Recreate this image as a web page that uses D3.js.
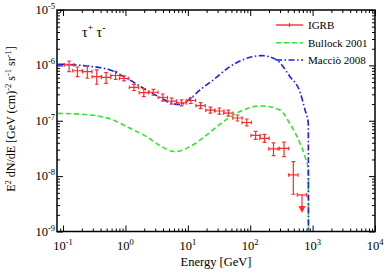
<!DOCTYPE html>
<html lang="en">
<head>
<meta charset="UTF-8" />
<title>tau+ tau- gamma-ray spectrum</title>
<script src="https://cdn.jsdelivr.net/npm/d3@7/dist/d3.min.js"></script>
<style>
  body { margin: 0; background: #fff; }
  text { font-family: "Liberation Serif", "DejaVu Serif", serif; fill: #000; }
  .frame { fill: none; stroke: #000; stroke-width: 1.5px; }
  .axis path { display: none; }
  .axis line { stroke: #000; stroke-width: 1px; }
  .bullock { fill: none; stroke: #2ee62e; stroke-width: 1.6px; stroke-dasharray: 5,3; }
  .maccio { fill: none; stroke: #1a1aff; stroke-width: 1.6px; stroke-dasharray: 6,2.5,1.5,2.5; }
  .igrb line, .igrb path { stroke: #ff2a2a; stroke-width: 1.2px; fill: none; }
</style>
</head>
<body>
<script>
// IGRB measured points (GeV, GeV cm^-2 s^-1 sr^-1)
var igrbE  = [0.125, 0.17, 0.245, 0.347, 0.489, 0.694, 0.95, 1.37, 1.97, 2.8, 3.97, 5.52, 7.93,
              11.2, 16, 23, 32, 44.6, 62.5, 88, 122, 169, 236, 348, 491];
var igrbF  = [1.02e-6, 8.0e-7, 7.7e-7, 6.25e-7, 6.05e-7, 6.57e-7, 5.8e-7, 3.99e-7, 3.22e-7, 3.27e-7,
              2.63e-7, 2.26e-7, 2.1e-7, 2.32e-7, 1.87e-7, 1.55e-7, 1.5e-7, 1.37e-7, 1.12e-7, 9.3e-8,
              5.43e-8, 4.8e-8, 3.1e-8, 3.16e-8, 1.05e-8];
var igrbHi = [1.2e-6, 9.35e-7, 9.9e-7, 8.26e-7, 7.38e-7, 7.76e-7, 6.44e-7, 4.52e-7, 3.8e-7, 3.7e-7,
              3.04e-7, 2.56e-7, 2.38e-7, 2.63e-7, 2.12e-7, 1.76e-7, 1.7e-7, 1.55e-7, 1.27e-7, 1.076e-7,
              6.41e-8, 5.67e-8, 3.97e-8, 4.1e-8, 1.83e-8];
var igrbLo = [7.7e-7, 6.25e-7, 5.85e-7, 4.56e-7, 4.75e-7, 5.57e-7, 5.23e-7, 3.52e-7, 2.72e-7, 2.89e-7,
              2.27e-7, 2.0e-7, 1.85e-7, 2.05e-7, 1.65e-7, 1.37e-7, 1.32e-7, 1.21e-7, 9.9e-8, 8.04e-8,
              4.6e-8, 4.06e-8, 2.34e-8, 2.25e-8, 4.71e-9];
var binHalfDex = 0.075;

// upper limit point
var ulE = 676, ulF = 4.58e-9, ulTip = 2.29e-9;

// Bullock 2001 model
var bullockE = [0.0832, 0.271, 0.567, 1.19, 2.19, 3.82, 6.24, 10.8, 20.1, 37, 68.7, 149, 300, 434, 628, 755, 853, 857];
var bullockF = [1.36e-7, 1.27e-7, 1.08e-7, 7.3e-8, 5.16e-8, 3.4e-8, 2.77e-8, 3.4e-8, 5.55e-8, 9.6e-8,
                1.47e-7, 1.85e-7, 1.57e-7, 8.8e-8, 3.93e-8, 2.25e-8, 1.29e-8, 1e-9];

// Maccio 2008 model
var maccioE = [0.0832, 0.211, 0.567, 1.05, 1.94, 3.58, 5.86, 7.5, 10.8, 15.7, 25.6, 47.4, 99.3, 153, 266, 434, 628, 755, 853, 857];
var maccioF = [1.05e-6, 9.9e-7, 8.26e-7, 5.85e-7, 3.86e-7, 2.64e-7, 2.03e-7, 1.97e-7, 2.48e-7, 3.6e-7,
               5.45e-7, 9.5e-7, 1.4e-6, 1.5e-6, 1.25e-6, 6.25e-7, 3.31e-7, 1.57e-7, 9.0e-8, 1e-9];

var xMajor = [1e-1, 1e0, 1e1, 1e2, 1e3, 1e4];
var xExp = ["-1", "0", "1", "2", "3", "4"];
var yMajor = [1e-9, 1e-8, 1e-7, 1e-6, 1e-5];
var yExp = ["-9", "-8", "-7", "-6", "-5"];
var legendNames = ["IGRB", "Bullock 2001", "Macciò 2008"];

var w = 389, h = 273;
var pl = 57, pr = 375, pt = 10, pb = 231.5;

var svg = d3.select("body").append("svg").attr("width", w).attr("height", h);

var x = d3.scaleLog().domain([0.08, 1e4]).range([pl, pr]);
var y = d3.scaleLog().domain([1e-9, 1e-5]).range([pb, pt]);

function minors(majors) {
  var out = [];
  majors.slice(0, -1).forEach(function(m) {
    for (var k = 2; k <= 9; k++) out.push(m * k);
  });
  return out;
}
var xMinor = minors([1e-2].concat(xMajor)).filter(function(v) { return v > 0.08; });
var yMinor = minors(yMajor);

// ticks, pointing inward on all four sides
function ax(axis, vals, size, tr) {
  svg.append("g").attr("class", "axis").attr("transform", tr)
    .call(axis.tickValues(vals).tickSize(size).tickFormat(""));
}
ax(d3.axisBottom(x), xMajor, -6, "translate(0," + pb + ")");
ax(d3.axisBottom(x), xMinor, -3, "translate(0," + pb + ")");
ax(d3.axisTop(x), xMajor, -6, "translate(0," + pt + ")");
ax(d3.axisTop(x), xMinor, -3, "translate(0," + pt + ")");
ax(d3.axisLeft(y), yMajor, -6, "translate(" + pl + ",0)");
ax(d3.axisLeft(y), yMinor, -3, "translate(" + pl + ",0)");
ax(d3.axisRight(y), yMajor, -6, "translate(" + pr + ",0)");
ax(d3.axisRight(y), yMinor, -3, "translate(" + pr + ",0)");

// tick labels
xMajor.forEach(function(v, i) {
  var t = svg.append("text").attr("x", x(v)).attr("y", 250).attr("text-anchor", "middle")
    .style("font-size", "12.5px");
  t.append("tspan").text("10");
  t.append("tspan").attr("dy", -5).style("font-size", "8.5px").text(xExp[i]);
});
yMajor.forEach(function(v, i) {
  var t = svg.append("text").attr("x", 55).attr("y", y(v) + 4).attr("text-anchor", "end")
    .style("font-size", "12.5px");
  t.append("tspan").text("10");
  t.append("tspan").attr("dy", -5).style("font-size", "8.5px").text(yExp[i]);
});

// axis titles
svg.append("text").attr("x", 216).attr("y", 266).attr("text-anchor", "middle")
  .style("font-size", "12.5px").text("Energy [GeV]");

var yl = svg.append("text").attr("transform", "translate(15,119) rotate(-90)")
  .attr("text-anchor", "middle").style("font-size", "12px");
[["E", 0], ["2", -4], [" dN/dE [GeV (cm)", 4], ["-2", -4], [" s", 4], ["-1", -4], [" sr", 4], ["-1", -4], ["]", 4]]
  .forEach(function(p, i) {
    var s = yl.append("tspan").text(p[0]);
    if (i > 0) s.attr("dy", p[1]);
    if (p[1] < 0) s.style("font-size", "8.5px");
  });

var lab = svg.append("text").attr("x", 82).attr("y", 37).style("font-size", "14px");
lab.append("tspan").text("τ");
lab.append("tspan").attr("dy", -6).style("font-size", "9.5px").text("+");
lab.append("tspan").attr("dy", 6).text(" τ");
lab.append("tspan").attr("dy", -6).style("font-size", "9.5px").text("-");

// curves
svg.append("clipPath").attr("id", "clip").append("rect")
  .attr("x", pl).attr("y", pt).attr("width", pr - pl).attr("height", pb - pt);

var line = d3.line()
  .x(function(d) { return x(d[0]); })
  .y(function(d) { return y(d[1]); })
  .curve(d3.curveMonotoneX);

var plot = svg.append("g").attr("clip-path", "url(#clip)");
plot.append("path").attr("class", "bullock").attr("d", line(d3.zip(bullockE, bullockF)));
plot.append("path").attr("class", "maccio").attr("d", line(d3.zip(maccioE, maccioF)));

// IGRB error bars
var g = plot.append("g").attr("class", "igrb");
var cap = 1.8;
igrbE.forEach(function(e, i) {
  var cx = x(e), cy = y(igrbF[i]);
  var x0 = x(e / Math.pow(10, binHalfDex)), x1 = x(e * Math.pow(10, binHalfDex));
  var yh = y(igrbHi[i]), ylo = y(igrbLo[i]);
  g.append("line").attr("x1", x0).attr("x2", x1).attr("y1", cy).attr("y2", cy);
  g.append("line").attr("x1", cx).attr("x2", cx).attr("y1", yh).attr("y2", ylo);
  g.append("line").attr("x1", cx - cap).attr("x2", cx + cap).attr("y1", yh).attr("y2", yh);
  g.append("line").attr("x1", cx - cap).attr("x2", cx + cap).attr("y1", ylo).attr("y2", ylo);
  g.append("line").attr("x1", x0).attr("x2", x0).attr("y1", cy - cap).attr("y2", cy + cap);
  g.append("line").attr("x1", x1).attr("x2", x1).attr("y1", cy - cap).attr("y2", cy + cap);
});
(function() {
  var cx = x(ulE), cy = y(ulF), tip = y(ulTip);
  var x0 = x(ulE / Math.pow(10, binHalfDex)), x1 = x(ulE * Math.pow(10, binHalfDex));
  g.append("line").attr("x1", x0).attr("x2", x1).attr("y1", cy).attr("y2", cy);
  g.append("line").attr("x1", x0).attr("x2", x0).attr("y1", cy - cap).attr("y2", cy + cap);
  g.append("line").attr("x1", x1).attr("x2", x1).attr("y1", cy - cap).attr("y2", cy + cap);
  g.append("line").attr("x1", cx).attr("x2", cx).attr("y1", cy).attr("y2", tip - 4);
  g.append("path").style("fill", "#ff2a2a")
    .attr("d", "M" + (cx - 2.5) + "," + (tip - 5) + "L" + (cx + 2.5) + "," + (tip - 5) + "L" + cx + "," + tip + "Z");
})();

// frame
svg.append("rect").attr("class", "frame")
  .attr("x", pl).attr("y", pt).attr("width", pr - pl).attr("height", pb - pt);

// legend
var legY = [25, 42.7, 60];
var leg = svg.append("g");
leg.append("line").attr("x1", 276).attr("x2", 303).attr("y1", legY[0]).attr("y2", legY[0])
  .style("stroke", "#ff2a2a").style("stroke-width", 1.4);
leg.append("line").attr("x1", 289.5).attr("x2", 289.5).attr("y1", legY[0] - 2).attr("y2", legY[0] + 2)
  .style("stroke", "#ff2a2a").style("stroke-width", 1.2);
leg.append("line").attr("class", "bullock").attr("x1", 276).attr("x2", 303).attr("y1", legY[1]).attr("y2", legY[1]);
leg.append("line").attr("class", "maccio").attr("x1", 276).attr("x2", 303).attr("y1", legY[2]).attr("y2", legY[2]);
legendNames.forEach(function(n, i) {
  leg.append("text").attr("x", 308).attr("y", legY[i] + 3.8).style("font-size", "11px").text(n);
});
</script>
</body>
</html>
